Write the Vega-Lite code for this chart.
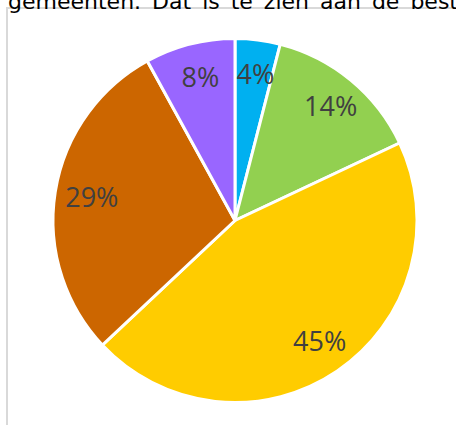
{
  "$schema": "https://vega.github.io/schema/vega-lite/v6.json",
  "width": 451,
  "height": 419,
  "autosize": {"type": "none"},
  "padding": {"left": 7, "top": 8, "right": -2, "bottom": -2},
  "background": "white",
  "view": {"stroke": "#d9d9d9", "strokeWidth": 2, "fill": "white"},
  "title": {
    "text": "e\u2002gemeenten.\u2002Dat\u2002is\u2002te\u2002zien\u2002aan\u2002de\u2002beste",
    "anchor": "start",
    "orient": "top",
    "font": "DejaVu Sans",
    "fontSize": 22,
    "fontWeight": "normal",
    "color": "#000000",
    "dx": -23.5,
    "offset": -6
  },
  "data": {
    "values": [
      {"cat": "A", "order": 1, "value": 4, "label": "4%"},
      {"cat": "B", "order": 2, "value": 14, "label": "14%"},
      {"cat": "C", "order": 3, "value": 45, "label": "45%"},
      {"cat": "D", "order": 4, "value": 29, "label": "29%"},
      {"cat": "E", "order": 5, "value": 8, "label": "8%"}
    ]
  },
  "encoding": {
    "theta": {"field": "value", "type": "quantitative", "stack": true},
    "order": {"field": "order", "type": "quantitative"},
    "color": {
      "field": "cat",
      "type": "nominal",
      "scale": {
        "domain": ["A", "B", "C", "D", "E"],
        "range": ["#00b0f0", "#92d050", "#ffcc00", "#cc6600", "#9966ff"]
      },
      "legend": null
    }
  },
  "layer": [
    {
      "mark": {"type": "arc", "outerRadius": 182, "stroke": "white", "strokeWidth": 3, "xOffset": 2.5, "yOffset": 3}
    },
    {
      "mark": {"type": "text", "radius": 147, "font": "Open Sans", "fontSize": 27, "xOffset": 4.5, "yOffset": 4, "baseline": "middle", "align": "center"},
      "encoding": {
        "text": {"field": "label", "type": "nominal"},
        "color": {"value": "#404040"}
      }
    }
  ]
}
